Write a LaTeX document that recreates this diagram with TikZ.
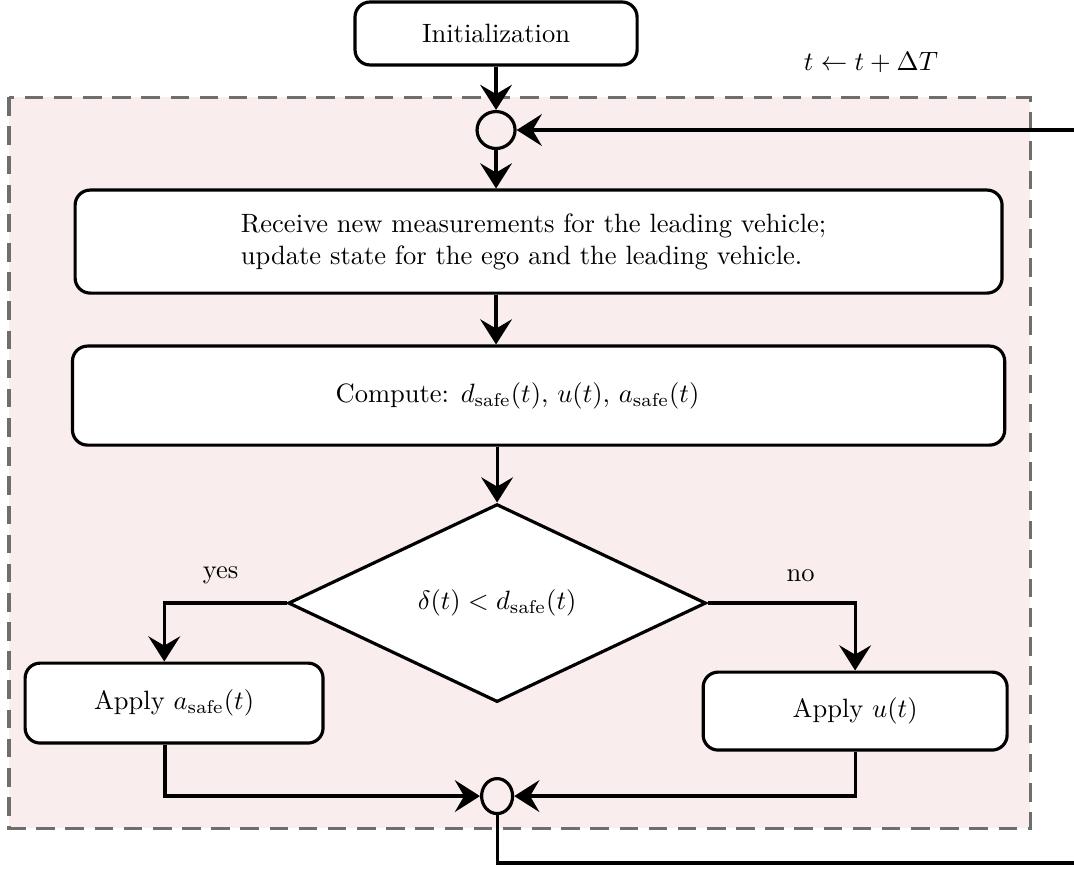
\documentclass[tikz,border=0pt]{standalone}
\usepackage{amssymb}
\usepackage{tikz}
\usetikzlibrary{shapes.geometric}
\usetikzlibrary{arrows,arrows.meta}
\definecolor{loopbg}{HTML}{F9EDED}
\definecolor{loopframe}{HTML}{6E6E6E}

\begin{document}
\begin{tikzpicture}[node distance=1.2cm,
		box/.style={draw, very thick, rounded corners=0.2cm, fill=white, inner sep=0pt},
		decision/.style={draw, very thick, diamond, fill=white, inner sep=0pt},
		junction/.style={draw, very thick, ellipse, inner sep=0pt},
		flow/.style={very thick, arrows={-Stealth[length=9.5pt,width=12pt,inset=3.5pt]}}]
		\useasboundingbox (0,0) rectangle (14.24,-11.52);
		%循环区域
		\draw[loopframe, fill=loopbg, very thick, dash pattern=on 7pt off 4pt] (0.12,-1.29) rectangle (13.66,-10.98);
		
		%流程图节点
		\node (init) [box, minimum width=3.74cm, minimum height=0.835cm] at (6.577,-0.444) {Initialization};
		\node (c1) [junction, below of=init, node distance=1.28cm, minimum width=0.504cm, minimum height=0.49cm] {};
		\node (rec) [box, below of=c1, node distance=1.479cm, xshift=0.564cm, minimum width=12.29cm, minimum height=1.366cm] {};
		\node (rectxt) [align=left, xshift=-0.066cm] at (rec) {Receive new measurements for the leading vehicle;\\ update state for the ego and the leading vehicle.};
		\node (comp) [box, below of=rec, node distance=2.042cm, minimum width=12.36cm, minimum height=1.313cm] {};
		\node (comptxt) [xshift=-0.28cm] at (comp) {Compute: $d_{\mathrm{safe}}(t)$, $u(t)$, $a_{\mathrm{safe}}(t)$};
		\node (dec) [decision, below of=comp, node distance=2.751cm, xshift=-0.550cm, minimum width=5.54cm, minimum height=2.625cm] {$\delta(t) < d_{\mathrm{safe}}(t)$};
		\node (appa) [box, below of=dec, node distance=1.326cm, xshift=-4.283cm, minimum width=3.95cm, minimum height=1.06cm] {Apply $a_{\mathrm{safe}}(t)$};
		\node (appu) [box, below of=dec, node distance=1.432cm, xshift=4.747cm, minimum width=4.03cm, minimum height=1.034cm] {Apply $u(t)$};
		\node (c2) [junction, below of=dec, node distance=2.559cm, minimum width=0.411cm, minimum height=0.464cm] {};
		\node (upd) [above of=c1, node distance=0.9cm, xshift=4.97cm] {$t \leftarrow t + \Delta T$};
		\coordinate (fbin) at (14.6,-1.724);
		\coordinate (fbout) at (14.6,-11.443);
		
		%连线
		\draw[flow] (init) -- (c1);
		\draw[flow] (c1) -- (c1 |- rec.north);
		\draw[flow] (rec.south -| c1) -- (comp.north -| c1);
		\draw[flow] (comp.south -| dec) -- (dec.north);
		\draw[flow] (dec.west) -| ([xshift=-0.13cm]appa.north) node[pos=0.27, above=0.12cm]{yes};
		\draw[flow] (dec.east) -| (appu.north) node[pos=0.315, above=0.15cm]{no};
		\draw[flow] ([xshift=-0.12cm]appa.south) |- (c2.west);
		\draw[flow] (appu.south) |- (c2.east);
		\draw[very thick] (c2.south) |- (fbout);
		\draw[flow] (fbin) -- (c1.east);
	\end{tikzpicture}
\end{document}
